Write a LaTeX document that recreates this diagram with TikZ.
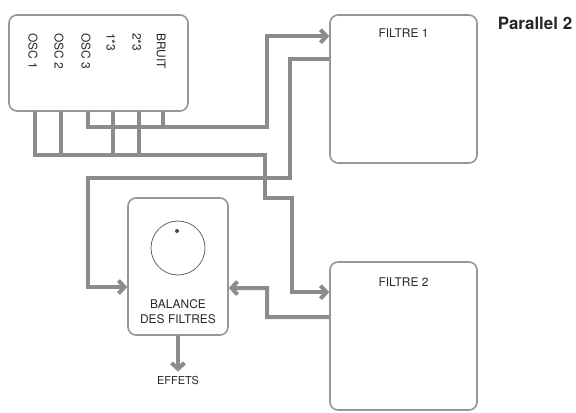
\documentclass[tikz,border=0pt]{standalone}
\usepackage{fontspec}
\setmainfont{TeX Gyre Heros}
\usetikzlibrary{positioning}
\usetikzlibrary{calc}
\usetikzlibrary{arrows.meta}
\definecolor{wiregray}{RGB}{140,140,140}
\definecolor{boxgray}{RGB}{150,150,150}
\definecolor{txtgray}{RGB}{40,40,40}

\begin{document}
\begin{tikzpicture}[x=1bp, y=-1bp, >={Straight Barb[length=6bp,width=13bp]}, font=\fontsize{12}{14}\selectfont, text=txtgray]
    \tikzstyle{box}=[draw=boxgray, line width=1.6bp, rectangle, rounded corners=8bp, inner sep=0pt]
    \tikzstyle{wire}=[draw=wiregray, line width=4bp, line join=miter]
    \tikzstyle{lbl}=[inner sep=0pt, font=\fontsize{12}{14}\selectfont]

    \useasboundingbox (0,0) rectangle (576,412);

    % blocks
    \node[box, minimum width=179bp, minimum height=96bp] (src) at (98.5,63) {};
    \node[box, minimum width=147bp, minimum height=148bp] (F1) at (403.5,89) {};
    \node[box, minimum width=147bp, minimum height=148bp] (F2) at (403.5,336) {};
    \node[box, minimum width=100bp, minimum height=137bp] (bal) at (178,266.5) {};
    \node[font=\fontsize{17}{19}\bfseries, text=black!85, inner sep=0pt] (title) at (535,23) {Parallel 2};

    \node[lbl, below=14bp of F1.north] {FILTRE 1};
    \node[lbl, below=16bp of F2.north] {FILTRE 2};

    % outputs of the source block
    \foreach \x/\n [count=\i] in {35/OSC 1, 61/OSC 2, 88/OSC 3, 113/1*3, 139/2*3, 163/BRUIT} {
        \node[lbl, rotate=-90, anchor=west] (l\i) at (\x-2,33) {\n};
        \coordinate (s\i) at (\x,0);
    }

    % balance block
    \node[circle, draw=black!60, line width=0.8bp, minimum size=54bp, inner sep=0pt] (knob) at (178,248) {};
    \fill[black!70] (177,231) circle (2bp);
    \node[lbl, align=center, font=\fontsize{12}{15}\selectfont] (ballbl) at (178,312) {BALANCE\\DES FILTRES};
    \node[lbl, font=\fontsize{11}{13}\selectfont] (fx) at (178,380) {EFFETS};

    \coordinate (busA) at (267,127);
    \coordinate (busB) at (265,155);
    \coordinate (jog1) at (292,198);
    \coordinate (jog2) at (290,178);
    \coordinate (jog3) at (88,178);
    \coordinate (jog4) at (267,288);
    \coordinate (F1in) at ($(F1.north west)+(0,22)$);
    \coordinate (F1out) at ($(F1.north west)+(0,45)$);
    \coordinate (F2in) at ($(F2.north west)+(0,31)$);
    \coordinate (F2out) at ($(F2.north west)+(0,56)$);

    % to filtre 1
    \draw[wire] (s6 |- src.south) -- (s6 |- busA);
    \draw[wire, ->] (s3 |- src.south) |- (busA) |- (F1in);

    % to filtre 2
    \foreach \i in {2,4,5}
        \draw[wire] (s\i |- src.south) -- (s\i |- busB);
    \draw[wire, ->] (s1 |- src.south) |- (busB) |- (jog1) |- (F2in);

    % filtres to balance
    \draw[wire, ->] (F1out) -| (jog2) -- (jog3) |- ([yshift=-20.5bp]bal.west);
    \draw[wire, ->] (F2out) -| (jog4) -- ([yshift=-21.5bp]bal.east);

    \draw[wire, ->] (bal.south) -- ([yshift=4bp]fx.north);
\end{tikzpicture}
\end{document}
